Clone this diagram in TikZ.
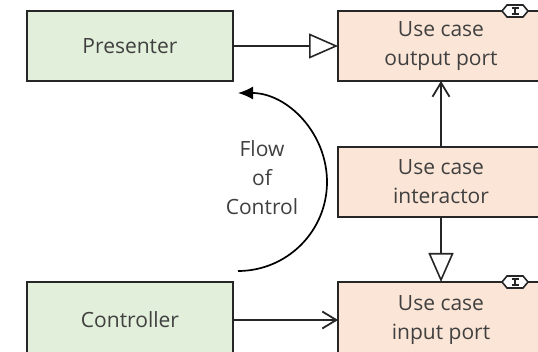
\documentclass[tikz,border=0pt]{standalone}
\usepackage{fontspec}
\setmainfont{Open Sans}
\usepackage{tikz}
\usetikzlibrary{positioning}
\usetikzlibrary{arrows.meta}
\usepackage{xcolor}

\definecolor{adapterfill}{HTML}{E2EFDA}
\definecolor{usecasefill}{HTML}{FBE5D6}
\definecolor{boxline}{HTML}{262626}
\definecolor{labeltext}{HTML}{404040}

\tikzset{
  adapter/.style={draw=boxline, line width=1.5pt, fill=adapterfill,
    minimum width=206pt, minimum height=70pt, inner sep=0pt, outer sep=0pt,
    text=labeltext, align=center, font=\fontsize{21}{29}\selectfont},
  usecase/.style={adapter, fill=usecasefill},
  realize/.style={draw=boxline, line width=1.6pt,
    -{Triangle[open, length=29pt, width=25pt, line width=1.6pt]}},
  call/.style={draw=boxline, line width=1.6pt,
    -{Straight Barb[length=14pt, width=17pt, line width=1.8pt]}},
  flow/.style={draw=black, line width=1.7pt,
    -{Latex[length=15pt, width=13pt]}},
  ifacemark/.pic={
    \draw[boxline, line width=1.6pt, fill=white]
      (-13,0)--(-8,-6)--(8,-6)--(13,0)--(8,6)--(-8,6)--cycle;
    \draw[boxline, line width=1.8pt] (-3.5,-3.2)--(3.5,-3.2) (-3.5,3.2)--(3.5,3.2) (0,-3.2)--(0,3.2);
  }
}

\begin{document}
\begin{tikzpicture}[x=1pt,y=-1pt]

\clip (0,0) rectangle (538,352);
\fill[white] (0,0) rectangle (538,352);

% boxes
{
\node[adapter] (presenter) at (130,46) {Presenter};

\node[usecase, right=105pt of presenter] (outport) {Use case\\output port};

\node[usecase, below=66pt of outport] (interactor) {Use case\\interactor};

\node[usecase, minimum height=76pt, below=65pt of interactor] (inport) {Use case\\input port};

\node[adapter, minimum height=76pt, left=105pt of inport] (controller) {Controller};
}

% interface marks
\pic at ([xshift=-29pt]outport.north east) {ifacemark};
\pic at ([xshift=-29pt]inport.north east) {ifacemark};

% connectors
{
\draw[realize] (presenter) -- (outport);
\draw[call] (controller) -- (inport);
\draw[call] (interactor) -- (outport);
\draw[realize] (interactor) -- (inport);
}

% flow of control
\coordinate (flowstart) at (238,271);
\draw[flow] (flowstart) arc[start angle=90, end angle=-90, radius=89];

\node[text=labeltext, align=center, font=\fontsize{21}{29}\selectfont] (flowlabel) at (262,178)
{Flow\\of\\Control};

\end{tikzpicture}
\end{document}
